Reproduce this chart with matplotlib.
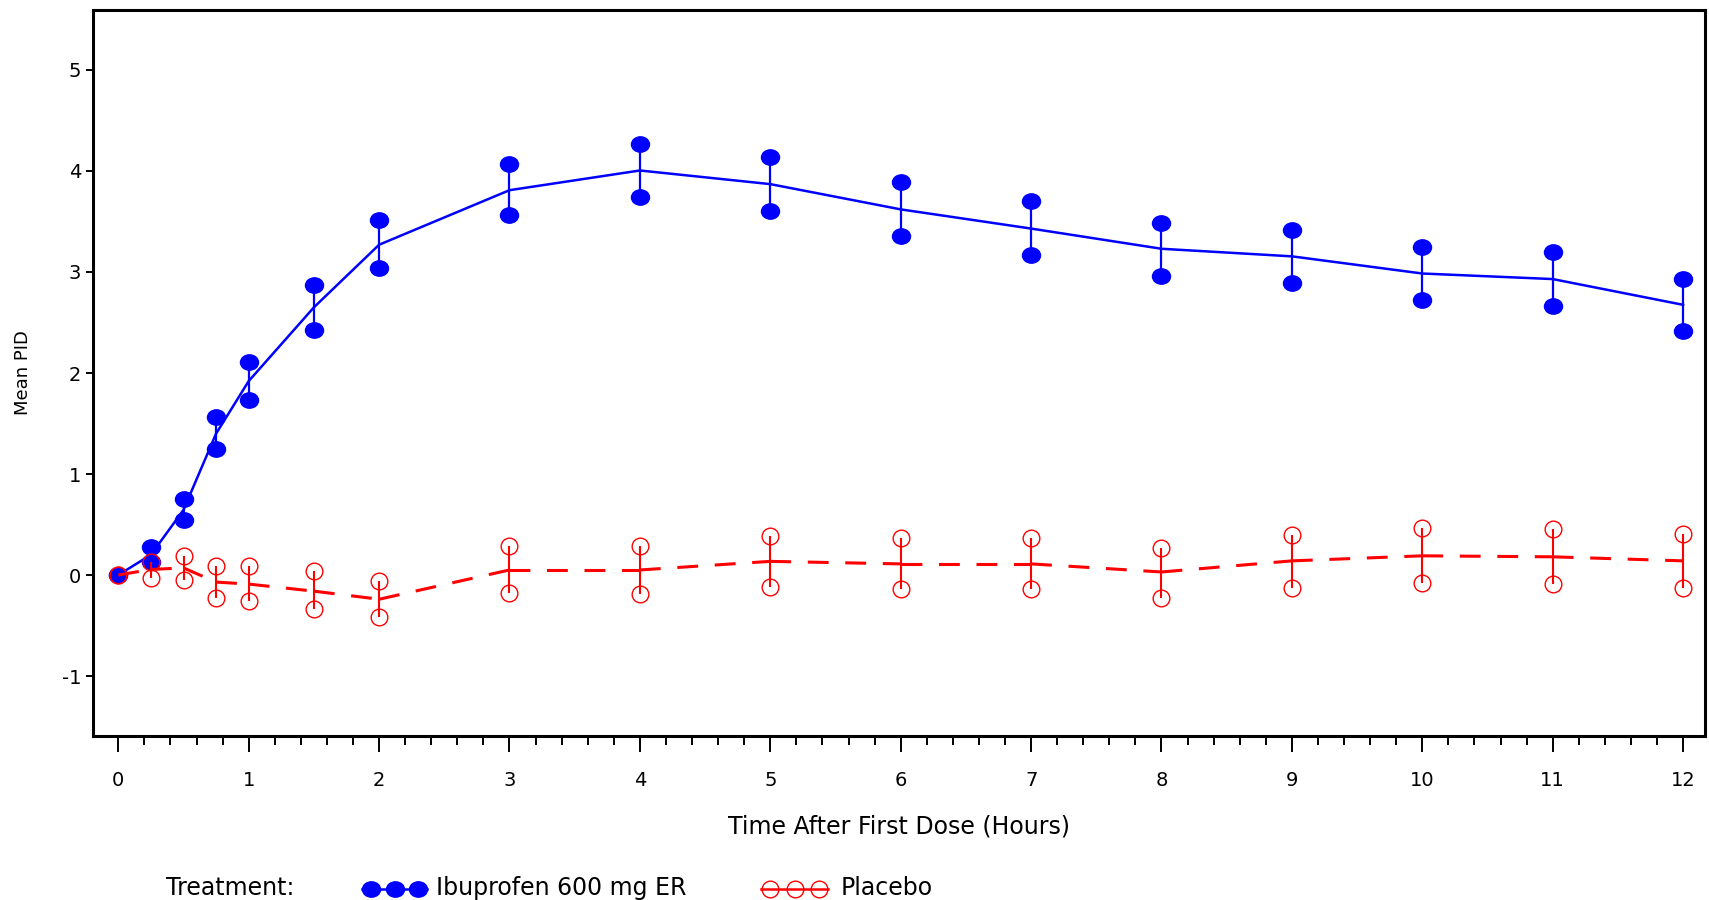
import numpy as np
import matplotlib
matplotlib.use("Agg")
import matplotlib.pyplot as plt
from matplotlib.path import Path

# ---------------- data ----------------
time = [0, 0.25, 0.5, 0.75, 1, 1.5, 2, 3, 4, 5, 6, 7, 8, 9, 10, 11, 12]

ibu_mean = [0, 0.20, 0.645, 1.40, 1.92, 2.65, 3.27, 3.81, 4.005, 3.87,
            3.62, 3.43, 3.23, 3.155, 2.985, 2.93, 2.675]
ibu_upper = [0, 0.28, 0.75, 1.56, 2.11, 2.87, 3.51, 4.07, 4.27, 4.14,
             3.89, 3.70, 3.49, 3.42, 3.25, 3.20, 2.93]
ibu_lower = [0, 0.13, 0.54, 1.25, 1.73, 2.43, 3.04, 3.56, 3.74, 3.60,
             3.36, 3.17, 2.96, 2.89, 2.72, 2.66, 2.42]

pla_mean = [0, 0.055, 0.07, -0.07, -0.09, -0.16, -0.24, 0.05, 0.05, 0.135,
            0.11, 0.11, 0.03, 0.14, 0.19, 0.18, 0.14]
pla_upper = [0, 0.13, 0.19, 0.09, 0.09, 0.04, -0.06, 0.286, 0.29, 0.39,
             0.37, 0.37, 0.27, 0.40, 0.47, 0.455, 0.41]
pla_lower = [0, -0.03, -0.05, -0.225, -0.26, -0.34, -0.42, -0.18, -0.19, -0.12,
             -0.14, -0.14, -0.225, -0.125, -0.076, -0.09, -0.13]

x_ticks = list(range(0, 13))
y_ticks = [-1, 0, 1, 2, 3, 4, 5]
x_label = "Time After First Dose (Hours)"
y_label = "Mean PID"
legend_title = "Treatment:"
series_names = ["Ibuprofen 600 mg ER", "Placebo"]

# ---------------- style ----------------
plt.rcParams["font.family"] = ["DejaVu Sans"]
plt.rcParams["axes.unicode_minus"] = False
plt.rcParams["lines.scale_dashes"] = False

BLUE = "#0000FF"
RED = "#FF0000"

circ = Path.unit_circle()
ellipse = Path(circ.vertices * np.array([1.0, 0.85]), circ.codes)

fig = plt.figure(figsize=(17.09, 9.0), dpi=100)
ax = fig.add_axes([0.05442, 0.18222, 0.94324, 0.80667])

# Ibuprofen (drawn first, placebo lies on top)
ax.vlines(time, ibu_lower, ibu_upper, color=BLUE, lw=1.6, zorder=2)
ax.plot(time, ibu_mean, color=BLUE, lw=1.8, zorder=3)
ax.plot(time, ibu_upper, ls="none", marker=ellipse, ms=13, color=BLUE, zorder=4)
ax.plot(time, ibu_lower, ls="none", marker=ellipse, ms=13, color=BLUE, zorder=4)

# Placebo: dashed line, each segment starting with a dash at its vertex
for i in range(len(time) - 1):
    ax.plot(time[i:i + 2], pla_mean[i:i + 2], color=RED, lw=2.2,
            dashes=(15, 12), dash_capstyle="butt", zorder=5)
ax.vlines(time, pla_lower, pla_upper, color=RED, lw=1.5, zorder=5)
ax.plot(time, pla_upper, ls="none", marker="o", ms=12, mfc="none",
        mec=RED, mew=1.0, zorder=6)
ax.plot(time, pla_lower, ls="none", marker="o", ms=12, mfc="none",
        mec=RED, mew=1.0, zorder=6)

# axes
ax.set_xlim(-0.194, 12.168)
ax.set_ylim(-1.594, 5.594)
ax.set_xticks(x_ticks)
ax.set_xticks(np.arange(0.2, 12.0, 0.2), minor=True)
ax.set_yticks(y_ticks)
for s in ax.spines.values():
    s.set_linewidth(2.2)
    s.set_color("black")
ax.tick_params(axis="x", which="major", direction="out", length=11.5,
               width=1.4, pad=13.5, labelsize=14)
ax.tick_params(axis="x", which="minor", direction="out", length=6.5, width=1.4)
ax.tick_params(axis="y", which="major", direction="out", length=5,
               width=1.4, pad=3.6, labelsize=14)
ax.tick_params(axis="y", which="minor", left=False)

ax.set_xlabel(x_label, fontsize=17, va="center")
ax.xaxis.set_label_coords(0.5, -0.1253)
ax.set_ylabel(y_label, fontsize=13, va="center", ha="center")
ax.yaxis.set_label_coords(-0.0434, 0.5)

# ---------------- legend row at the bottom ----------------
lax = fig.add_axes([0, 0, 1, 0.06])
lax.set_xlim(0, 1709)
lax.set_ylim(0, 54)
lax.axis("off")
lax.patch.set_visible(False)
ymk = 11
lax.text(166, 5, legend_title, fontsize=17, ha="left", va="baseline")
lax.plot([362, 427], [ymk, ymk], color=BLUE, lw=1.8)
lax.plot([371, 394.5, 418], [ymk] * 3, ls="none", marker=ellipse, ms=13,
         color=BLUE)
lax.text(436, 5, series_names[0], fontsize=17, ha="left", va="baseline")
lax.plot([761, 828], [ymk, ymk], color=RED, lw=1.8)
lax.plot([770, 795, 819], [ymk] * 3, ls="none", marker="o", ms=12,
         mfc="none", mec=RED, mew=1.0)
lax.text(841, 5, series_names[1], fontsize=17, ha="left", va="baseline")

fig.savefig("out.png", dpi=100)
